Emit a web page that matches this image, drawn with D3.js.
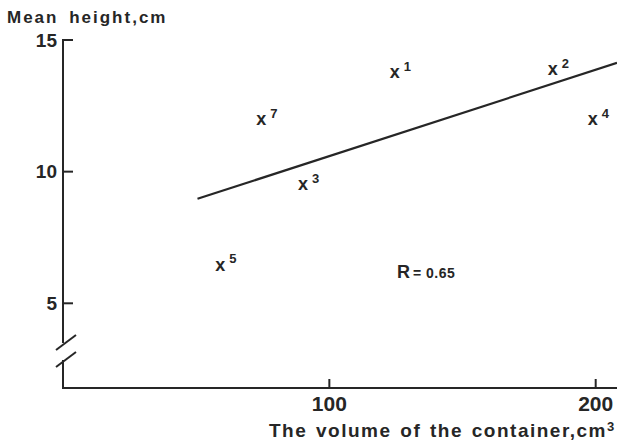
<!DOCTYPE html>
<html>
<head>
<meta charset="utf-8">
<script src="https://cdn.jsdelivr.net/npm/d3@7"></script>
<style>
  html, body { margin: 0; padding: 0; background: #fff; }
  svg { display: block; }
  text { font-family: "Liberation Sans", Arial, Helvetica, sans-serif; font-weight: bold; fill: #262626; }
</style>
</head>
<body>
<svg id="chart" width="617" height="441"></svg>
<script>
// Container volume (cm³) vs mean plant height (cm), numbered samples
const sampleIds = ["1", "2", "3", "4", "5", "7"];
const volumes   = [124.6, 183.9, 90.1, 198.9, 59.0, 74.4];
const heights   = [13.75, 13.86, 9.49, 11.96, 6.45, 11.96];

// Fitted regression line end points
const fitVolumes = [50.5, 208];
const fitHeights = [8.97, 14.13];

const xTicks = [100, 200];
const yTicks = [5, 10, 15];
const rLabel = "0.65";

const svg = d3.select("#chart");
const ink = "#262626";

const x = d3.scaleLinear().domain([0, 208]).range([63, 617]);
const y = d3.scaleLinear().domain([5, 15]).range([303.3, 40]);
const axisBottomY = 388;

// y axis (with break below 5)
const g = svg.append("g").attr("stroke", ink).attr("stroke-width", 2).attr("fill", "none");
g.append("line").attr("x1", x(0)).attr("x2", x(0)).attr("y1", y(15) - 1).attr("y2", 343);
g.append("line").attr("x1", x(0)).attr("x2", x(0)).attr("y1", 360).attr("y2", axisBottomY);
// break marks
g.append("line").attr("x1", x(0) - 7).attr("y1", 350).attr("x2", x(0) + 13).attr("y2", 335);
g.append("line").attr("x1", x(0) - 7).attr("y1", 367).attr("x2", x(0) + 13).attr("y2", 352);
// x axis
g.append("line").attr("x1", x(0) - 1).attr("x2", 617).attr("y1", axisBottomY).attr("y2", axisBottomY);

// y ticks pointing inward
yTicks.forEach(t => {
  g.append("line").attr("x1", x(0)).attr("x2", x(0) + 10).attr("y1", y(t)).attr("y2", y(t));
  svg.append("text").attr("x", x(0) - 6).attr("y", y(t)).attr("dy", "0.36em")
    .attr("text-anchor", "end").attr("font-size", 19).text(t);
});
// x ticks pointing up
xTicks.forEach(t => {
  g.append("line").attr("x1", x(t)).attr("x2", x(t)).attr("y1", axisBottomY).attr("y2", axisBottomY - 9);
  svg.append("text").attr("x", x(t)).attr("y", 411).attr("text-anchor", "middle")
    .attr("font-size", 21).text(t);
});

// axis titles
svg.append("text").attr("x", 7).attr("y", 23).attr("font-size", 17)
  .attr("letter-spacing", 2).attr("word-spacing", 4).text("Mean height,cm");
svg.append("text").attr("x", 607).attr("y", 437).attr("text-anchor", "end")
  .attr("font-size", 19).attr("letter-spacing", 1.5).attr("word-spacing", 2)
  .text("The volume of the container,cm");
svg.append("text").attr("x", 607).attr("y", 431).attr("font-size", 13).text("3");

// regression line
svg.append("path")
  .datum(fitVolumes.map((v, i) => [v, fitHeights[i]]))
  .attr("d", d3.line().x(d => x(d[0])).y(d => y(d[1])))
  .attr("stroke", ink).attr("stroke-width", 2.2).attr("fill", "none");

// sample markers: "x" with superscript number
const pts = sampleIds.map((id, i) => ({ id, v: volumes[i], h: heights[i] }));
const m = svg.append("g").selectAll("g").data(pts).join("g")
  .attr("transform", d => `translate(${x(d.v)},${y(d.h)})`);
m.append("text").attr("text-anchor", "middle").attr("dy", "0.3em").attr("font-size", 18).text("x");
m.append("text").attr("x", 9).attr("y", -2).attr("font-size", 13).text(d => d.id);

// correlation coefficient
const r = svg.append("text").attr("x", 397).attr("y", 278).attr("font-size", 18);
r.append("tspan").text("R");
r.append("tspan").attr("font-size", 14).attr("dx", 3).attr("letter-spacing", 0.5).text("= " + rLabel);
</script>
</body>
</html>
